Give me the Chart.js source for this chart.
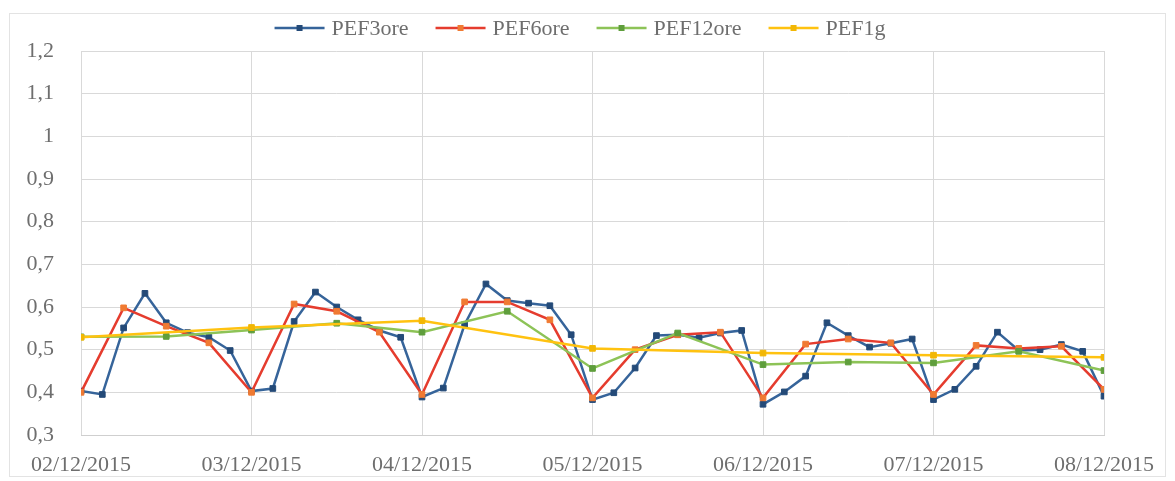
<!DOCTYPE html>
<html>
<head>
<meta charset="utf-8">
<title>PEF</title>
<script src="https://cdn.jsdelivr.net/npm/chart.js@4"></script>
<style>
  html, body { margin: 0; padding: 0; background: #fff; }
  canvas { display: block; }
</style>
</head>
<body>
<canvas id="pefChart" width="1175" height="481"></canvas>
<script>
// Day labels on the x axis (one tick every 24 h)
const dateLabels = ['02/12/2015', '03/12/2015', '04/12/2015', '05/12/2015', '06/12/2015', '07/12/2015', '08/12/2015'];

// PEF readings, sampled every 3 h, 6 h, 12 h and 24 h
const pef3ore = [
  0.403, 0.395, 0.551, 0.632, 0.563, 0.540, 0.529, 0.498,
  0.403, 0.409, 0.566, 0.635, 0.600, 0.570, 0.545, 0.529,
  0.389, 0.410, 0.559, 0.654, 0.615, 0.609, 0.603, 0.535,
  0.383, 0.399, 0.457, 0.533, 0.535, 0.528, 0.539, 0.545,
  0.372, 0.401, 0.438, 0.563, 0.533, 0.506, 0.515, 0.525,
  0.383, 0.407, 0.461, 0.541, 0.498, 0.500, 0.512, 0.496,
  0.391
];
const pef6ore = [
  0.400, 0.598, 0.555, 0.516,
  0.400, 0.607, 0.590, 0.541,
  0.395, 0.612, 0.612, 0.570,
  0.387, 0.500, 0.535, 0.541,
  0.387, 0.513, 0.525, 0.516,
  0.395, 0.510, 0.503, 0.508,
  0.407
];
const pef12ore = [0.530, 0.531, 0.546, 0.562, 0.541, 0.590, 0.456, 0.539, 0.465, 0.471, 0.469, 0.496, 0.451];
const pef1g = [0.529, 0.552, 0.568, 0.503, 0.492, 0.487, 0.482];

const TEXT_COLOR = '#6e6e6e';
const GRID_COLOR = '#d9d9d9';
const FONT_FAMILY = '"Liberation Serif", "Times New Roman", serif';

// values -> {x: hours since first day, y}
function toPoints(values, stepHours) {
  return values.map((v, i) => ({ x: i * stepHours, y: v }));
}

function makeSeries(label, values, stepHours, lineColor, markerColor, order) {
  return {
    label: label,
    data: toPoints(values, stepHours),
    borderColor: lineColor,
    backgroundColor: markerColor,
    pointBackgroundColor: markerColor,
    pointBorderColor: markerColor,
    pointBorderWidth: 1,
    pointStyle: 'rect',
    pointRadius: 4,
    borderWidth: 2.5,
    tension: 0,
    fill: false,
    order: order
  };
}

// White background + thin outer frame
const framePlugin = {
  id: 'frame',
  beforeDraw(chart) {
    const ctx = chart.ctx;
    ctx.save();
    ctx.fillStyle = '#ffffff';
    ctx.fillRect(0, 0, chart.width, chart.height);
    ctx.strokeStyle = '#e3e3e3';
    ctx.lineWidth = 1;
    ctx.strokeRect(9.5, 13.5, chart.width - 19, chart.height - 18);
    ctx.restore();
  }
};

// Excel-like legend: short line with a marker in the middle, then the label
const lineLegendPlugin = {
  id: 'lineLegend',
  afterDraw(chart) {
    const ctx = chart.ctx;
    const symbolWidth = 50;
    const textGap = 7;
    const itemGap = 27;
    const centerY = 28;
    ctx.save();
    ctx.font = '22px ' + FONT_FAMILY;
    const items = chart.data.datasets.map(ds => ({
      ds: ds,
      textWidth: ctx.measureText(ds.label).width
    }));
    const total = items.reduce((sum, it) => sum + symbolWidth + textGap + it.textWidth, 0) + itemGap * (items.length - 1);
    let x = 580 - total / 2;
    items.forEach(it => {
      const ds = it.ds;
      ctx.strokeStyle = ds.borderColor;
      ctx.lineWidth = 2.5;
      ctx.beginPath();
      ctx.moveTo(x, centerY);
      ctx.lineTo(x + symbolWidth, centerY);
      ctx.stroke();
      ctx.fillStyle = ds.pointBackgroundColor;
      ctx.fillRect(x + symbolWidth / 2 - 3, centerY - 3, 6, 6);
      ctx.fillStyle = TEXT_COLOR;
      ctx.textBaseline = 'middle';
      ctx.textAlign = 'left';
      ctx.fillText(ds.label, x + symbolWidth + textGap, centerY + 1);
      x += symbolWidth + textGap + it.textWidth + itemGap;
    });
    ctx.restore();
  }
};

const ctx = document.getElementById('pefChart').getContext('2d');
new Chart(ctx, {
  type: 'line',
  data: {
    datasets: [
      makeSeries('PEF3ore', pef3ore, 3, '#36649a', '#244a78', 4),
      makeSeries('PEF6ore', pef6ore, 6, '#e53c2e', '#f07a32', 3),
      makeSeries('PEF12ore', pef12ore, 12, '#8dc357', '#5f9e3c', 2),
      makeSeries('PEF1g', pef1g, 24, '#ffc210', '#f2b705', 1)
    ]
  },
  options: {
    responsive: false,
    animation: false,
    devicePixelRatio: 1,
    layout: {
      padding: { top: 51, left: 10, right: 71, bottom: 0 }
    },
    scales: {
      x: {
        type: 'linear',
        min: 0,
        max: (dateLabels.length - 1) * 24,
        afterFit: scale => { scale.height = 46; },
        grid: { color: GRID_COLOR, lineWidth: 1, drawTicks: false },
        border: { color: '#cfcfcf' },
        ticks: {
          stepSize: 24,
          autoSkip: false,
          maxRotation: 0,
          padding: 17,
          color: TEXT_COLOR,
          font: { family: FONT_FAMILY, size: 22 },
          callback: value => dateLabels[Math.round(value / 24)]
        }
      },
      y: {
        min: 0.3,
        max: 1.2,
        afterFit: scale => { scale.width = 71; },
        grid: { color: GRID_COLOR, lineWidth: 1, drawTicks: false },
        border: { display: false },
        ticks: {
          stepSize: 0.1,
          padding: 27,
          color: TEXT_COLOR,
          font: { family: FONT_FAMILY, size: 22 },
          callback: value => String(Math.round(value * 10) / 10).replace('.', ',')
        }
      }
    },
    plugins: {
      legend: { display: false },
      tooltip: { enabled: false }
    }
  },
  plugins: [framePlugin, lineLegendPlugin]
});
</script>
</body>
</html>
